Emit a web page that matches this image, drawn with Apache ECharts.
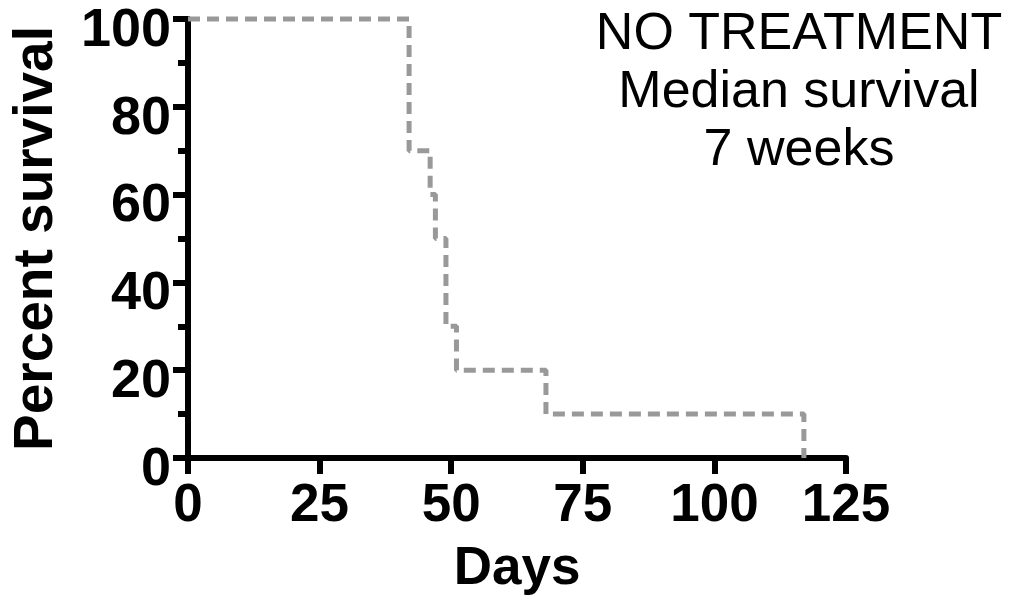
<!DOCTYPE html>
<html>
<head>
<meta charset="utf-8">
<script src="https://cdn.jsdelivr.net/npm/echarts@6/dist/echarts.min.js"></script>
<style>html,body{margin:0;padding:0;background:#fff;}#c{width:1017px;height:602px;}</style>
</head>
<body>
<div id="c"></div>
<script>
// Kaplan-Meier step points (day, percent survival)
const days = [0, 42, 46, 47, 49, 51, 68, 117];
const survival = [100, 70, 60, 50, 30, 20, 10, 0];
const xTicks = [0, 25, 50, 75, 100, 125];
const yTicks = [0, 20, 40, 60, 80, 100];
const annotationLines = ['NO TREATMENT', 'Median survival', '7 weeks'];

const FONT = '"Liberation Sans", Arial, Helvetica, sans-serif';
const chart = echarts.init(document.getElementById('c'), null, {renderer: 'canvas'});
chart.setOption({
  backgroundColor: '#ffffff',
  animation: false,
  grid: {left: 188, right: 171, top: 19, bottom: 144, containLabel: false},
  xAxis: {
    type: 'value', min: xTicks[0], max: xTicks[xTicks.length - 1], interval: 25,
    name: 'Days', nameLocation: 'middle', nameGap: 85,
    nameTextStyle: {fontFamily: FONT, fontWeight: 'bold', fontSize: 53, color: '#000'},
    axisLine: {show: true, lineStyle: {color: '#000', width: 6}},
    axisTick: {show: true, length: 16, lineStyle: {color: '#000', width: 6}},
    axisLabel: {fontFamily: FONT, fontWeight: 'bold', fontSize: 53, color: '#000', margin: 22},
    splitLine: {show: false}
  },
  yAxis: {
    type: 'value', min: yTicks[0], max: yTicks[yTicks.length - 1], interval: 20,
    name: 'Percent survival', nameLocation: 'middle', nameGap: 124,
    nameTextStyle: {fontFamily: FONT, fontWeight: 'bold', fontSize: 55, color: '#000'},
    axisLine: {show: true, lineStyle: {color: '#000', width: 6}},
    axisTick: {show: true, length: 15, lineStyle: {color: '#000', width: 6}},
    minorTick: {show: true, splitNumber: 2, length: 10, lineStyle: {color: '#000', width: 6}},
    axisLabel: {fontFamily: FONT, fontWeight: 'bold', fontSize: 54, color: '#000', margin: 17,
      verticalAlign: 'top', lineHeight: 24},
    splitLine: {show: false}
  },
  series: [{
    type: 'line',
    step: 'end',
    data: days.map((d, i) => [d, survival[i]]),
    showSymbol: false,
    symbol: 'none',
    clip: false,
    lineStyle: {color: '#999999', width: 5, type: [12, 7]},
    z: 1
  }],
  graphic: [{
    type: 'text',
    x: 799, y: 6,
    style: {
      text: annotationLines.join('\n'),
      font: '52px ' + FONT,
      fill: '#000',
      textAlign: 'center',
      textVerticalAlign: 'top',
      lineHeight: 58
    }
  }]
});
</script>
</body>
</html>
